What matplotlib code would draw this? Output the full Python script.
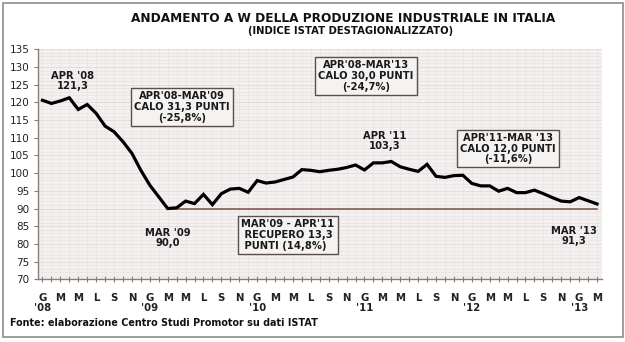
import matplotlib
matplotlib.use("Agg")
import matplotlib.pyplot as plt
from matplotlib.patches import Rectangle
from matplotlib.ticker import MultipleLocator, FixedLocator
import matplotlib.transforms as mtransforms

# ---- data (monthly, Jan 2008 .. Mar 2013) ----
values_2008 = [120.6, 119.7, 120.4, 121.3, 118.0, 119.4, 116.9, 113.3, 111.7, 108.9, 105.6, 100.8]
values_2009 = [96.6, 93.3, 90.0, 90.2, 92.1, 91.4, 94.0, 91.1, 94.2, 95.5, 95.7, 94.6]
values_2010 = [97.9, 97.2, 97.5, 98.2, 98.9, 101.0, 100.8, 100.4, 100.8, 101.1, 101.6, 102.3]
values_2011 = [100.9, 102.9, 102.9, 103.3, 101.8, 101.1, 100.5, 102.5, 99.1, 98.8, 99.3, 99.4]
values_2012 = [97.1, 96.4, 96.4, 94.9, 95.7, 94.5, 94.5, 95.2, 94.2, 93.1, 92.1, 91.9]
values_2013 = [93.1, 92.2, 91.3]
values = values_2008 + values_2009 + values_2010 + values_2011 + values_2012 + values_2013

month_letters = ["G", "M", "M", "L", "S", "N"]   # every second month
year_labels = ["'08", "'09", "'10", "'11", "'12", "'13"]
baseline_value = 90.0
baseline_start = 14   # Mar '09

title = "ANDAMENTO A W DELLA PRODUZIONE INDUSTRIALE IN ITALIA"
subtitle = "(INDICE ISTAT DESTAGIONALIZZATO)"
footer = "Fonte: elaborazione Centro Studi Promotor su dati ISTAT"

# ---- figure ----
fig = plt.figure(figsize=(6.25, 3.42), dpi=100)
fig.patch.set_facecolor("white")
W, H = 625, 342

ax = fig.add_axes([38 / W, 1 - 279.3 / H, (601.5 - 38) / W, (279.3 - 49.3) / H])
ax.set_facecolor("#f3f1f0")

x = list(range(len(values)))
ax.set_xlim(-0.5, len(values) - 0.5)
ax.set_ylim(70, 135)

# grid
ax.xaxis.set_minor_locator(MultipleLocator(1))
ax.yaxis.set_minor_locator(MultipleLocator(1))
ax.yaxis.set_major_locator(MultipleLocator(5))
ax.grid(which="minor", color="#e9e3e3", linewidth=0.5)
ax.grid(which="major", axis="y", color="#e2dada", linewidth=0.6)
ax.grid(which="major", axis="x", color="#e9e3e3", linewidth=0.5)
ax.set_axisbelow(True)

# x ticks: letters every second month
major_pos = list(range(0, len(values), 2))
ax.xaxis.set_major_locator(FixedLocator(major_pos))
ax.set_xticklabels([month_letters[(p % 12) // 2] for p in major_pos])

for s in ["top", "right"]:
    ax.spines[s].set_visible(False)
for s in ["left", "bottom"]:
    ax.spines[s].set_color("#8a7c76")
    ax.spines[s].set_linewidth(1.0)

ax.tick_params(axis="both", which="both", colors="#8a7c76", length=3, width=0.8)
ax.tick_params(axis="x", which="both", direction="inout", length=4)
ax.tick_params(axis="y", which="minor", length=0)
ax.tick_params(axis="x", labelsize=7.3, labelcolor="#222222", pad=8)
ax.tick_params(axis="y", labelsize=7.5, labelcolor="#222222", pad=3)
for lab in ax.get_xticklabels():
    lab.set_fontweight("bold")

# year labels
trans = mtransforms.blended_transform_factory(ax.transData, fig.transFigure)
for i, yl in enumerate(year_labels):
    ax.text(i * 12, 1 - 308 / H, yl, transform=trans, ha="center", va="center",
            fontsize=7.3, fontweight="bold", color="#222222", clip_on=False)

# baseline at 90
ax.plot([baseline_start, len(values) - 1], [baseline_value, baseline_value],
        color="#7a4e42", linewidth=1.1, zorder=2)

# main line
ax.plot(x, values, color="black", linewidth=2.3, solid_joinstyle="miter", zorder=3)

# annotations (figure pixel positions)
def ftext(px, py, s, box=False, **kw):
    props = dict(ha="center", va="center", fontsize=7.2, fontweight="bold",
                 color="#1a1a1a", linespacing=1.1)
    props.update(kw)
    if box:
        props["bbox"] = dict(boxstyle="square,pad=0.3", facecolor="#f5f3f2",
                             edgecolor="#5c4e4a", linewidth=1.0)
    fig.text(px / W, 1 - py / H, s, zorder=5, **props)

ftext(73, 81, "APR '08\n121,3")
ftext(182, 107, "APR'08-MAR'09\nCALO 31,3 PUNTI\n(-25,8%)", box=True)
ftext(366, 76, "APR'08-MAR'13\nCALO 30,0 PUNTI\n(-24,7%)", box=True)
ftext(385, 141, "APR '11\n103,3")
ftext(508, 148.5, "APR'11-MAR '13\nCALO 12,0 PUNTI\n(-11,6%)", box=True)
ftext(168, 238, "MAR '09\n90,0")
ftext(288, 235, "MAR'09 - APR'11\n RECUPERO 13,3\n PUNTI (14,8%)", box=True, multialignment="left")
ftext(574, 236, "MAR '13\n91,3")

# titles
fig.text(343.5 / W, 1 - 18 / H, title, ha="center", va="center", fontsize=8.7,
         fontweight="bold", color="#111111")
fig.text(351 / W, 1 - 31.5 / H, subtitle, ha="center", va="center", fontsize=7.2,
         fontweight="bold", color="#111111")
fig.text(10 / W, 1 - 323 / H, footer, ha="left", va="center", fontsize=6.9,
         fontweight="bold", color="#111111")

# outer frame
fig.patches.append(Rectangle((3 / W, 1 - 337 / H), 620 / W, 334 / H,
                             transform=fig.transFigure, fill=False,
                             edgecolor="#8c8c8c", linewidth=1.2, zorder=0))

fig.savefig("out.png", dpi=100)
